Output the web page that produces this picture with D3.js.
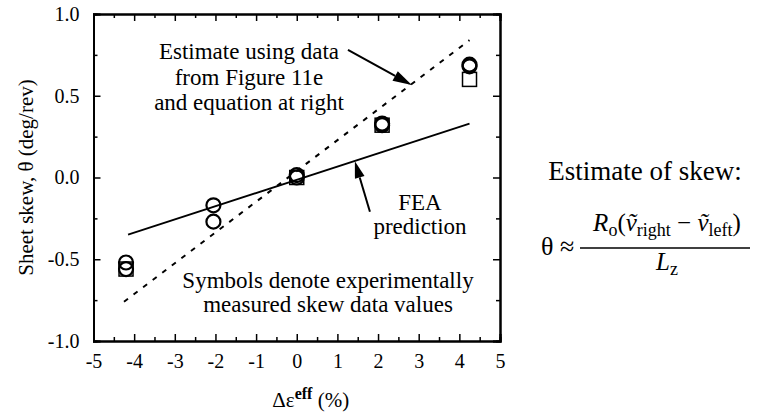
<!DOCTYPE html>
<html>
<head>
<meta charset="utf-8">
<script src="https://cdn.jsdelivr.net/npm/d3@7"></script>
<style>
  html, body { margin: 0; padding: 0; background: #fff; }
  svg { display: block; }
  text { font-family: "Liberation Serif", "Times New Roman", serif; fill: #000; }
</style>
</head>
<body>
<svg id="chart" width="759" height="413"></svg>
<script>
// Measured skew: circles and squares at each strain difference
const circleX = [-4.2, -4.2, -2.05, -2.05, 0, 0, 2.1, 2.1, 4.25, 4.25];
const circleY = [-0.52, -0.56, -0.17, -0.27, 0.015, 0.0, 0.32, 0.33, 0.69, 0.68];
const squareX = [-4.2, 0, 2.1, 4.25];
const squareY = [-0.56, 0.0, 0.32, 0.60];

// FEA prediction (solid) and estimate from equation (dashed)
const feaX = [-4.15, 4.25];
const feaY = [-0.35, 0.33];
const estX = [-4.25, 4.25];
const estY = [-0.76, 0.84];

// Axis ticks
const xTicks = [-5, -4, -3, -2, -1, 0, 1, 2, 3, 4, 5];
const xMinor = [-4.5, -3.5, -2.5, -1.5, -0.5, 0.5, 1.5, 2.5, 3.5, 4.5];
const yTicks = [-1.0, -0.5, 0.0, 0.5, 1.0];
const yMinor = [-0.75, -0.25, 0.25, 0.75];

const svg = d3.select("#chart");
const L = 93.5, R = 500, T = 14, B = 341;

const x = d3.scaleLinear().domain([-5, 5]).range([L, R]);
const y = d3.scaleLinear().domain([-1, 1]).range([B, T]);

const axes = svg.append("g");

// bottom axis with labels
axes.append("g").attr("transform", `translate(0,${B})`)
  .call(d3.axisBottom(x).tickValues(xTicks).tickSize(-7).tickPadding(13)
    .tickFormat(d => String(d).replace("\u2212", "-")));
axes.append("g").attr("transform", `translate(0,${B})`)
  .call(d3.axisBottom(x).tickValues(xMinor).tickSize(-4).tickFormat(""));

// left axis with labels
axes.append("g").attr("transform", `translate(${L},0)`)
  .call(d3.axisLeft(y).tickValues(yTicks).tickSize(-7).tickPadding(14)
    .tickFormat(d => d.toFixed(1)));
axes.append("g").attr("transform", `translate(${L},0)`)
  .call(d3.axisLeft(y).tickValues(yMinor).tickSize(-4).tickFormat(""));

// top and right frame with inward ticks
axes.append("g").attr("transform", `translate(0,${T})`)
  .call(d3.axisTop(x).tickValues(xTicks).tickSize(-7).tickFormat(""));
axes.append("g").attr("transform", `translate(0,${T})`)
  .call(d3.axisTop(x).tickValues(xMinor).tickSize(-4).tickFormat(""));
axes.append("g").attr("transform", `translate(${R},0)`)
  .call(d3.axisRight(y).tickValues(yTicks).tickSize(-7).tickFormat(""));
axes.append("g").attr("transform", `translate(${R},0)`)
  .call(d3.axisRight(y).tickValues(yMinor).tickSize(-4).tickFormat(""));

axes.selectAll(".domain").attr("stroke", "#000").attr("stroke-width", 2);
axes.selectAll(".tick line").attr("stroke", "#000").attr("stroke-width", 1.5);
axes.selectAll(".tick text").style("font-family", "Liberation Serif, serif")
  .style("font-size", "20px").attr("fill", "#000");

// axis titles
svg.append("text")
  .attr("transform", `translate(33,${(T + B) / 2}) rotate(-90)`)
  .attr("text-anchor", "middle").style("font-size", "21px")
  .text("Sheet skew, \u03b8 (deg/rev)");

const xt = svg.append("text").attr("x", (L + R) / 2 + 14).attr("y", 407)
  .attr("text-anchor", "middle").style("font-size", "21px");
xt.append("tspan").text("\u0394\u03b5");
xt.append("tspan").attr("dy", -8).style("font-size", "16px").style("font-weight", "bold").text("eff");
xt.append("tspan").attr("dy", 8).text(" (%)");

// lines
const line = d3.line().x(d => x(d[0])).y(d => y(d[1]));
svg.append("path").datum(d3.zip(estX, estY)).attr("d", line)
  .attr("fill", "none").attr("stroke", "#000").attr("stroke-width", 2)
  .attr("stroke-dasharray", "5,7");
svg.append("path").datum(d3.zip(feaX, feaY)).attr("d", line)
  .attr("fill", "none").attr("stroke", "#000").attr("stroke-width", 1.8);

// symbols
svg.append("g").selectAll("rect").data(d3.zip(squareX, squareY)).join("rect")
  .attr("x", d => x(d[0]) - 7).attr("y", d => y(d[1]) - 7)
  .attr("width", 14).attr("height", 14)
  .attr("fill", "none").attr("stroke", "#000").attr("stroke-width", 1.5);
svg.append("g").selectAll("circle").data(d3.zip(circleX, circleY)).join("circle")
  .attr("cx", d => x(d[0])).attr("cy", d => y(d[1])).attr("r", 7)
  .attr("fill", "none").attr("stroke", "#000").attr("stroke-width", 2.2);

// annotation arrows (tail -> tip, data units)
const arrows = [
  { from: [1.26, 0.78], to: [2.83, 0.565], len: 19, half: 5.5 },
  { from: [1.80, -0.21], to: [1.43, 0.10], len: 17, half: 5 }
];
arrows.forEach(a => {
  const x0 = x(a.from[0]), y0 = y(a.from[1]), x1 = x(a.to[0]), y1 = y(a.to[1]);
  const dx = x1 - x0, dy = y1 - y0, n = Math.hypot(dx, dy);
  const ux = dx / n, uy = dy / n;
  const bx = x1 - ux * a.len, by = y1 - uy * a.len;
  svg.append("line").attr("x1", x0).attr("y1", y0).attr("x2", bx).attr("y2", by)
    .attr("stroke", "#000").attr("stroke-width", 2);
  svg.append("path")
    .attr("d", `M${x1},${y1}L${bx - uy * a.half},${by + ux * a.half}L${bx + uy * a.half},${by - ux * a.half}Z`)
    .attr("fill", "#000");
});

// annotation text blocks
function block(cx, baseline, lines, size, gap) {
  const t = svg.append("text").attr("text-anchor", "middle").style("font-size", size + "px");
  lines.forEach((s, i) => t.append("tspan").attr("x", cx).attr("y", baseline + i * gap).text(s));
}
block(249, 59, ["Estimate using data", "from Figure 11e", "and equation at right"], 23, 25.5);
block(420, 210, ["FEA"], 23, 0);
block(420, 234, ["prediction"], 23, 0);
block(328, 288, ["Symbols denote experimentally", "measured skew data values"], 23, 24);

// skew estimate equation
block(645, 180, ["Estimate of skew:"], 27, 0);
svg.append("text").attr("x", 541).attr("y", 255).style("font-size", "26px").text("\u03b8 \u2248");
svg.append("line").attr("x1", 580).attr("x2", 750).attr("y1", 248).attr("y2", 248)
  .attr("stroke", "#000").attr("stroke-width", 1.5);
const num = svg.append("text").attr("x", 667).attr("y", 231)
  .attr("text-anchor", "middle").style("font-size", "25px");
num.append("tspan").style("font-style", "italic").text("R");
num.append("tspan").attr("dy", 5).style("font-size", "18px").text("o");
num.append("tspan").attr("dy", -5).text("(");
num.append("tspan").style("font-style", "italic").text("\u1e7d");
num.append("tspan").attr("dy", 5).style("font-size", "18px").text("right");
num.append("tspan").attr("dy", -5).text(" \u2212 ");
num.append("tspan").style("font-style", "italic").text("\u1e7d");
num.append("tspan").attr("dy", 5).style("font-size", "18px").text("left");
num.append("tspan").attr("dy", -5).text(")");
const den = svg.append("text").attr("x", 667).attr("y", 270)
  .attr("text-anchor", "middle").style("font-size", "25px");
den.append("tspan").style("font-style", "italic").text("L");
den.append("tspan").attr("dy", 5).style("font-size", "18px").text("z");
</script>
</body>
</html>
